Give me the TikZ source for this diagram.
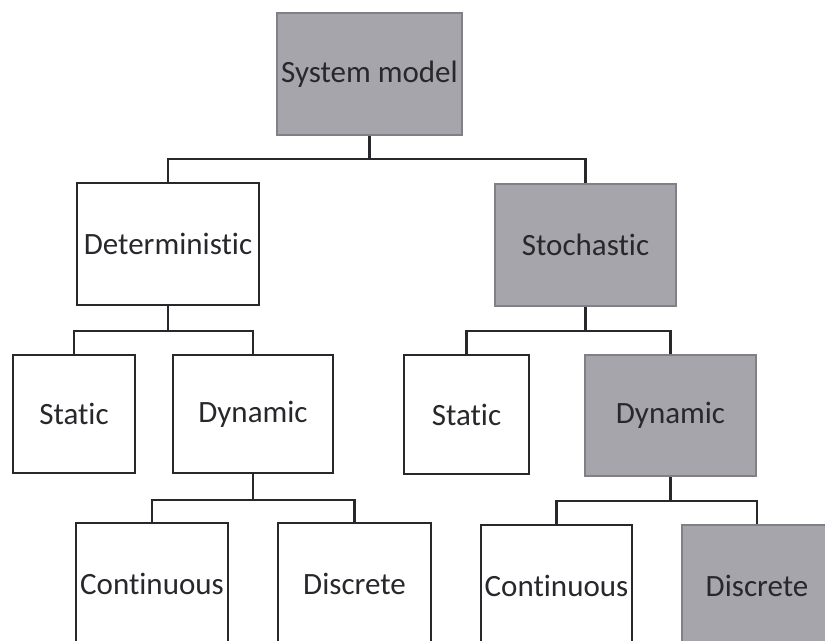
\documentclass[tikz,border=0pt]{standalone}
\usepackage{fontspec}
\setmainfont{Carlito}[Ligatures={NoCommon,NoContextual}]
\definecolor{boxgrey}{RGB}{166,165,172}
\definecolor{edgegrey}{RGB}{128,128,134}
\definecolor{inkgrey}{RGB}{40,40,44}
\begin{document}
\begin{tikzpicture}[
    x=0.5pt, y=-0.5pt,
    every node/.style={draw=inkgrey, line width=1.2pt, align=center, inner sep=0pt, text=inkgrey, font=\fontsize{15.5}{18}\selectfont},
    box/.style={fill=white},
    greybox/.style={fill=boxgrey, draw=edgegrey, line width=0.8pt},
    link/.style={draw=inkgrey, line width=1.2pt}
]
    \useasboundingbox (0,0) rectangle (825,641);
    \clip (0,0) rectangle (825,641);

    \node[greybox, minimum width=92.5pt, minimum height=61pt] (sysmodel) at (369.5, 74) {System model};

    \node[box, minimum width=91pt, minimum height=61pt] (determ) at (168, 244) {Deterministic};
    \node[greybox, minimum width=90.5pt, minimum height=61pt] (stoch) at (585.5, 245) {Stochastic};

    \node[box, minimum width=61pt, minimum height=59pt] (dstatic) at (74, 414) {Static};
    \node[box, minimum width=80pt, minimum height=59pt] (ddynamic) at (253, 414) {Dynamic};
    \node[box, minimum width=62.5pt, minimum height=59.5pt] (sstatic) at (466.5, 414.5) {Static};
    \node[greybox, minimum width=85.5pt, minimum height=60.5pt] (sdynamic) at (670.5, 415.5) {Dynamic};

    \node[box, minimum width=76pt, minimum height=61pt] (dcont) at (152, 584) {Continuous};
    \node[box, minimum width=76.5pt, minimum height=61pt] (ddisc) at (354.5, 584) {Discrete};
    \node[box, minimum width=75.5pt, minimum height=61pt] (scont) at (556.5, 586) {Continuous};
    \node[greybox, minimum width=75pt, minimum height=61pt] (sdisc) at (757, 586) {Discrete};

    % tree connectors
    \draw[link] (sysmodel.south) -- ++(0,23.5) coordinate (bar1);
    \draw[link] (determ.north) |- (bar1) -| (stoch.north);

    \draw[link] (determ.south) -- ++(0,25) coordinate (bar2);
    \draw[link] (dstatic.north) |- (bar2) -| (ddynamic.north);
    \draw[link] (stoch.south) -- ++(0,24) coordinate (bar3);
    \draw[link] (sstatic.north) |- (bar3) -| (sdynamic.north);

    \draw[link] (ddynamic.south) -- ++(0,26) coordinate (bar4);
    \draw[link] (dcont.north) |- (bar4) -| (ddisc.north);
    \draw[link] (sdynamic.south) -- ++(0,24) coordinate (bar5);
    \draw[link] (scont.north) |- (bar5) -| (sdisc.north);
\end{tikzpicture}
\end{document}
